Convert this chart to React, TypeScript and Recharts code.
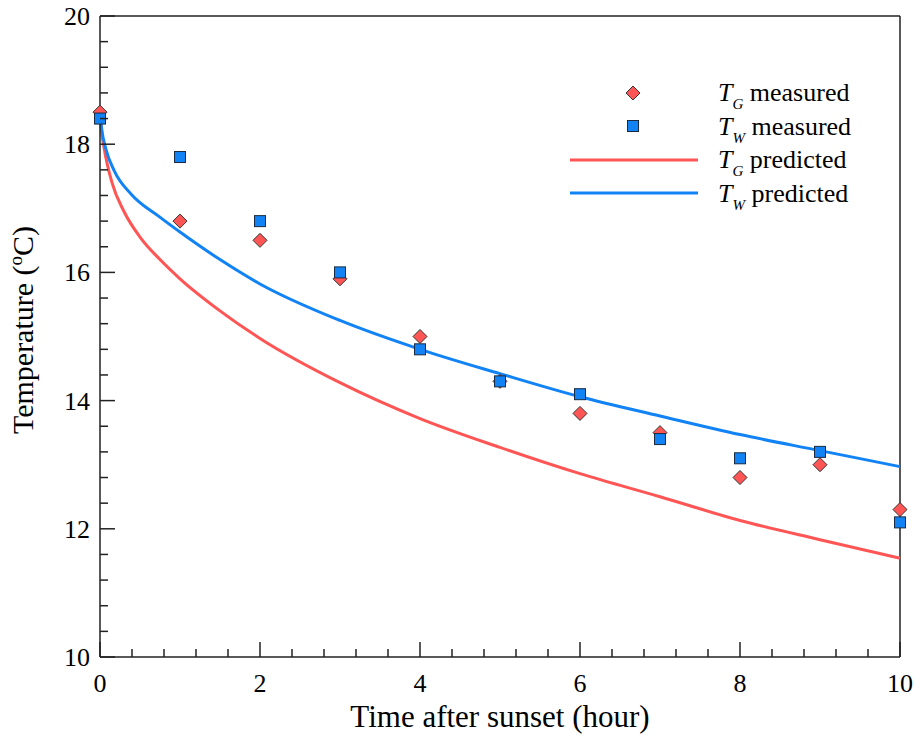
import { ComposedChart, Line, Scatter, XAxis, YAxis, ReferenceLine, Legend } from 'recharts';

const HOURS = [0, 1, 2, 3, 4, 5, 6, 7, 8, 9, 10];
const TG_MEASURED = [18.5, 16.8, 16.5, 15.9, 15.0, 14.3, 13.8, 13.5, 12.8, 13.0, 12.3];
const TW_MEASURED = [18.4, 17.8, 16.8, 16.0, 14.8, 14.3, 14.1, 13.4, 13.1, 13.2, 12.1];

const TG_PRED_HOURS = [0, 0.02, 0.05, 0.15, 0.3, 0.5, 0.75, 1, 1.5, 2, 3, 4, 5, 6, 7, 8, 9, 10];
const TG_PREDICTED = [18.5, 18.2, 17.95, 17.4, 16.95, 16.55, 16.2, 15.9, 15.4, 14.97, 14.28, 13.72, 13.27, 12.86, 12.5, 12.13, 11.83, 11.54];
const TW_PRED_HOURS = [0, 0.02, 0.075, 0.18, 0.39, 0.74, 1, 1.5, 2, 3, 4, 5, 6, 7, 8, 9, 10];
const TW_PREDICTED = [18.5, 18.25, 17.92, 17.58, 17.22, 16.87, 16.63, 16.2, 15.82, 15.25, 14.8, 14.42, 14.06, 13.76, 13.47, 13.22, 12.97];

const X_TICKS = Array.from({ length: 26 }, (_, i) => Math.round(i * 4) / 10);
const Y_TICKS = Array.from({ length: 26 }, (_, i) => Math.round(100 + i * 4) / 10);

const RED = '#ff5555';
const BLUE = '#1283f5';
const AXIS = '#222';
const FONT = '"Liberation Serif", "Times New Roman", serif';

const AX_LEFT = 100;
const AX_BOTTOM = 657;

const tgMeasured = HOURS.map((x, i) => ({ x, y: TG_MEASURED[i] }));
const twMeasured = HOURS.map((x, i) => ({ x, y: TW_MEASURED[i] }));
const tgPred = TG_PRED_HOURS.map((x, i) => ({ x, y: TG_PREDICTED[i] }));
const twPred = TW_PRED_HOURS.map((x, i) => ({ x, y: TW_PREDICTED[i] }));

const isMajor = (v: number) => Math.abs(v / 2 - Math.round(v / 2)) < 1e-6;

function YTick({ y, payload }: any) {
  const v = payload.value;
  const major = isMajor(v);
  return (
    <g>
      <line x1={AX_LEFT} x2={AX_LEFT + (major ? 15 : 8)} y1={y} y2={y} stroke={AXIS} strokeWidth={1.5} />
      {major && (
        <text x={AX_LEFT - 10} y={y} dy={9} textAnchor="end" fontSize={26} fontFamily={FONT} fill="#000">
          {v}
        </text>
      )}
    </g>
  );
}

function XTick({ x, payload }: any) {
  const v = payload.value;
  const major = isMajor(v);
  return (
    <g>
      <line x1={x} x2={x} y1={AX_BOTTOM} y2={AX_BOTTOM - (major ? 15 : 8)} stroke={AXIS} strokeWidth={1.5} />
      {major && (
        <text x={x} y={AX_BOTTOM + 35} textAnchor="middle" fontSize={26} fontFamily={FONT} fill="#000">
          {v}
        </text>
      )}
    </g>
  );
}

const Diamond = ({ cx, cy }: any) => (
  <path d={`M${cx},${cy - 7} L${cx + 7},${cy} L${cx},${cy + 7} L${cx - 7},${cy} Z`} fill={RED} stroke="#333" strokeWidth={1} />
);

const Square = ({ cx, cy }: any) => (
  <rect x={cx - 5.5} y={cy - 5.5} width={11} height={11} fill={BLUE} stroke="#1a2a40" strokeWidth={1} />
);

const LEGEND = [
  { sub: 'G', text: 'measured', kind: 'diamond' },
  { sub: 'W', text: 'measured', kind: 'square' },
  { sub: 'G', text: 'predicted', kind: 'red' },
  { sub: 'W', text: 'predicted', kind: 'blue' },
];

function LegendBox() {
  return (
    <div style={{ fontFamily: FONT, fontSize: 26, color: '#000' }}>
      {LEGEND.map((item, i) => (
        <div key={i} style={{ display: 'flex', alignItems: 'center', height: 33.5 }}>
          <svg width={140} height={20} style={{ flex: 'none' }}>
            {item.kind === 'diamond' && <Diamond cx={73} cy={10} />}
            {item.kind === 'square' && <Square cx={73} cy={10} />}
            {item.kind === 'red' && <line x1={10} x2={138} y1={10} y2={10} stroke={RED} strokeWidth={3} />}
            {item.kind === 'blue' && <line x1={10} x2={138} y1={10} y2={10} stroke={BLUE} strokeWidth={3} />}
          </svg>
          <span style={{ marginLeft: 18, whiteSpace: 'nowrap', lineHeight: '26px', position: 'relative', top: 2 }}>
            <i>T</i>
            <i style={{ fontSize: 15, position: 'relative', top: 8 }}>{item.sub}</i> {item.text}
          </span>
        </div>
      ))}
    </div>
  );
}

export default function App() {
  return (
    <div style={{ position: 'absolute', left: 0, top: 0, background: '#fff' }}>
      <ComposedChart width={920} height={736} margin={{ top: 16, right: 20, bottom: 39, left: 40 }}>
        <XAxis
          type="number"
          dataKey="x"
          domain={[0, 10]}
          ticks={X_TICKS}
          interval={0}
          tick={<XTick />}
          tickLine={false}
          axisLine={{ stroke: AXIS, strokeWidth: 1.5 }}
          height={40}
          label={{
            content: () => (
              <text x={500} y={727} textAnchor="middle" fontSize={31} fontFamily={FONT} fill="#000">
                Time after sunset (hour)
              </text>
            ),
          }}
        />
        <YAxis
          type="number"
          domain={[10, 20]}
          ticks={Y_TICKS}
          interval={0}
          tick={<YTick />}
          tickLine={false}
          axisLine={{ stroke: AXIS, strokeWidth: 1.5 }}
          width={60}
          label={{
            content: () => (
              <text transform="translate(33,330) rotate(-90)" textAnchor="middle" fontSize={30} fontFamily={FONT} fill="#000">
                Temperature (<tspan dy={-11} fontSize={19}>o</tspan>
                <tspan dy={11}>C)</tspan>
              </text>
            ),
          }}
        />
        <ReferenceLine y={20} stroke={AXIS} strokeWidth={1.5} />
        <ReferenceLine x={10} stroke={AXIS} strokeWidth={1.5} />
        <Line data={tgPred} dataKey="y" type="monotone" stroke={RED} strokeWidth={3} dot={false} isAnimationActive={false} />
        <Line data={twPred} dataKey="y" type="monotone" stroke={BLUE} strokeWidth={3} dot={false} isAnimationActive={false} />
        <Scatter data={tgMeasured} dataKey="y" shape={<Diamond />} isAnimationActive={false} />
        <Scatter data={twMeasured} dataKey="y" shape={<Square />} isAnimationActive={false} />
        <Legend
          layout="vertical"
          align="center"
          verticalAlign="middle"
          content={() => <LegendBox />}
          wrapperStyle={{ left: 560, top: 76, width: 340, height: 134 }}
        />
      </ComposedChart>
    </div>
  );
}
